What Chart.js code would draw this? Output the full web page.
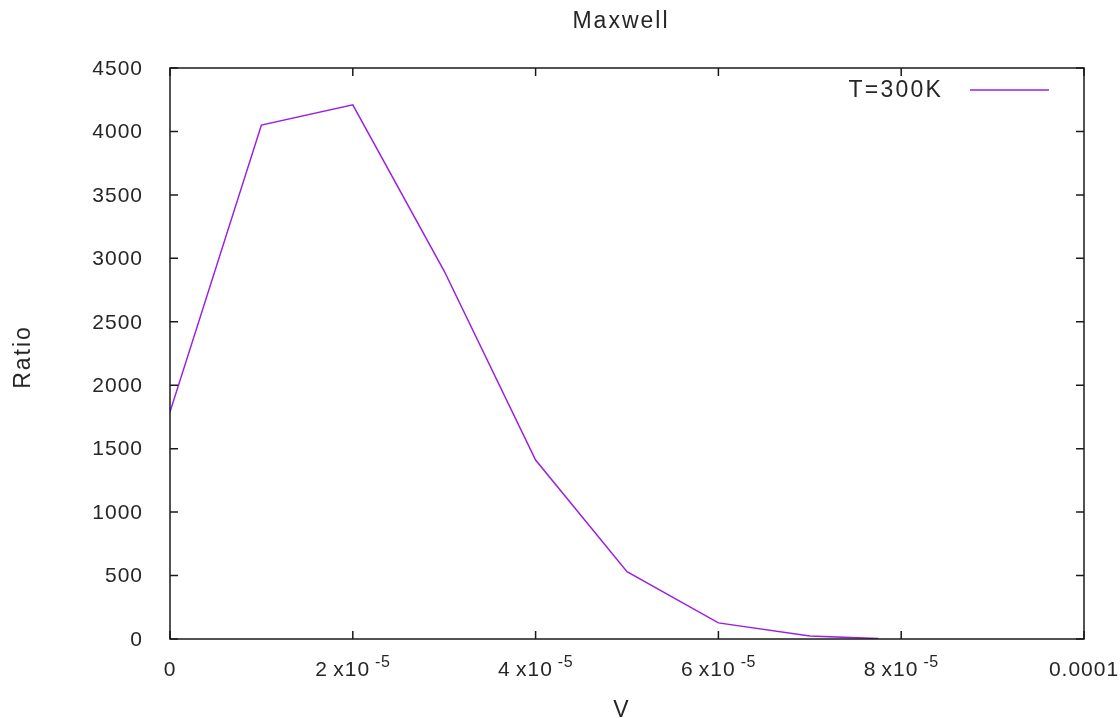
<!DOCTYPE html>
<html>
<head>
<meta charset="utf-8">
<script src="https://cdn.jsdelivr.net/npm/chart.js@4/dist/chart.umd.min.js"></script>
<style>
    html, body { margin: 0; padding: 0; background: #fff; }
    #wrap { width: 1120px; height: 718px; }
</style>
</head>
<body>
<div id="wrap"><canvas id="c"></canvas></div>
<script>
// datos
const speeds = [0, 1e-5, 2e-5, 3e-5, 4e-5, 5e-5, 6e-5, 7e-5, 7.75e-5];
const ratios = [1790, 4050, 4210, 2900, 1410, 530, 127, 24, 3];
const xTicks = [0, 2e-5, 4e-5, 6e-5, 8e-5, 1e-4];
const xTickLabels = [["0", ""], ["2\u2009x10", "-5"], ["4\u2009x10", "-5"], ["6\u2009x10", "-5"], ["8\u2009x10", "-5"], ["0.0001", ""]];
const yTicks = [0, 500, 1000, 1500, 2000, 2500, 3000, 3500, 4000, 4500];
const seriesLabel = "T=300K";
const titleText = "Maxwell";
const xTitle = "V";
const yTitle = "Ratio";

const FONT = '"Liberation Sans", Arial, sans-serif';
const INK = "#262626";
const LINE = "#9a1fe0";

function spaced(ctx, px, spacing) {
    ctx.font = px + "px " + FONT;
    ctx.letterSpacing = spacing + "px";
}

// plugin que dibuja marco, ticks hacia dentro, textos y leyenda (estilo gnuplot)
const gnuplotFrame = {
    id: "gnuplotFrame",
    afterDraw(chart) {
        const { ctx, chartArea: a, scales } = chart;
        const xs = scales.x, ys = scales.y;
        ctx.save();

        // marco
        ctx.strokeStyle = "#1a1a1a";
        ctx.lineWidth = 1.5;
        ctx.strokeRect(a.left, a.top, a.right - a.left, a.bottom - a.top);

        // ticks
        const tl = 8;
        ctx.beginPath();
        xs.ticks.forEach((t) => {
            const px = xs.getPixelForValue(t.value);
            ctx.moveTo(px, a.bottom); ctx.lineTo(px, a.bottom - tl);
            ctx.moveTo(px, a.top); ctx.lineTo(px, a.top + tl);
        });
        ys.ticks.forEach((t) => {
            const py = ys.getPixelForValue(t.value);
            ctx.moveTo(a.left, py); ctx.lineTo(a.left + tl, py);
            ctx.moveTo(a.right, py); ctx.lineTo(a.right - tl, py);
        });
        ctx.stroke();

        ctx.fillStyle = INK;

        // etiquetas eje y
        spaced(ctx, 21, 1);
        ctx.textAlign = "right";
        ctx.textBaseline = "middle";
        ys.ticks.forEach((t) => {
            ctx.fillText(String(t.value), a.left - 27, ys.getPixelForValue(t.value) + 1);
        });

        // etiquetas eje x con exponente
        ctx.textBaseline = "alphabetic";
        ctx.textAlign = "left";
        xs.ticks.forEach((t, i) => {
            const [base, sup] = xTickLabels[i];
            spaced(ctx, 21, 1);
            const wb = ctx.measureText(base).width;
            spaced(ctx, 16, 0.5);
            const ws = sup ? ctx.measureText(sup).width + 5 : 0;
            let x0 = xs.getPixelForValue(t.value) - (wb + ws) / 2;
            spaced(ctx, 21, 1);
            ctx.fillText(base, x0, a.bottom + 37);
            if (sup) {
                spaced(ctx, 16, 0.5);
                ctx.fillText(sup, x0 + wb + 5, a.bottom + 28);
            }
        });

        // titulo y ejes
        spaced(ctx, 23, 2);
        ctx.textAlign = "center";
        ctx.fillText(titleText, 621, 28);
        ctx.fillText(xTitle, 622, 717);
        ctx.save();
        ctx.translate(30, 357);
        ctx.rotate(-Math.PI / 2);
        ctx.fillText(yTitle, 0, 0);
        ctx.restore();

        // leyenda
        spaced(ctx, 23, 2.2);
        ctx.textAlign = "right";
        ctx.fillText(seriesLabel, 943, 97);
        ctx.strokeStyle = LINE;
        ctx.lineWidth = 1.5;
        ctx.beginPath();
        ctx.moveTo(970, 90);
        ctx.lineTo(1049, 90);
        ctx.stroke();

        ctx.restore();
    },
};

const ctx = document.getElementById("c").getContext("2d");
new Chart(ctx, {
    type: "line",
    data: {
        datasets: [{
            label: seriesLabel,
            data: speeds.map((v, i) => ({ x: v, y: ratios[i] })),
            borderColor: LINE,
            borderWidth: 1.5,
            pointRadius: 0,
            tension: 0,
            fill: false,
        }],
    },
    options: {
        responsive: true,
        maintainAspectRatio: false,
        animation: false,
        layout: { padding: { left: 0, right: 36, top: 68, bottom: 0 } },
        plugins: { legend: { display: false }, title: { display: false }, tooltip: { enabled: false } },
        scales: {
            x: {
                type: "linear",
                min: 0,
                max: 1e-4,
                afterBuildTicks: (s) => { s.ticks = xTicks.map((v) => ({ value: v })); },
                afterFit: (s) => { s.height = 79; },
                ticks: { display: false },
                grid: { display: false },
                border: { display: false },
            },
            y: {
                min: 0,
                max: 4500,
                afterBuildTicks: (s) => { s.ticks = yTicks.map((v) => ({ value: v })); },
                afterFit: (s) => { s.width = 170; },
                ticks: { display: false },
                grid: { display: false },
                border: { display: false },
            },
        },
    },
    plugins: [gnuplotFrame],
});
</script>
</body>
</html>
